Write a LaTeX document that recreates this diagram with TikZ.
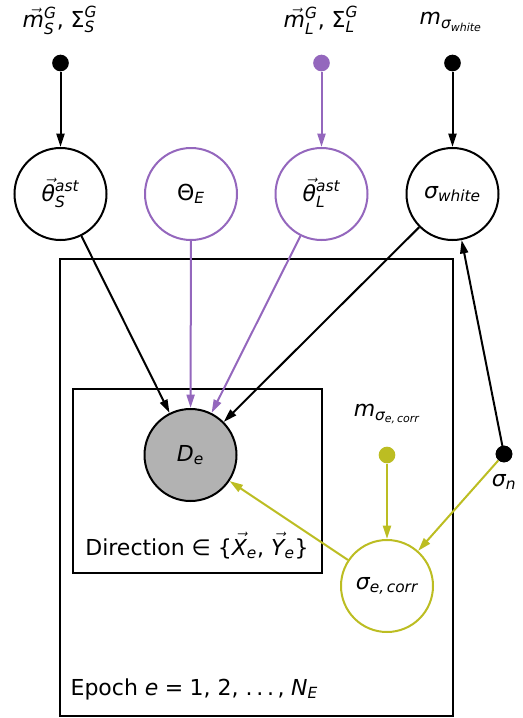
\documentclass[tikz,border=0pt]{standalone}
\usepackage{amsmath}
\usepackage{fontspec}
\setmainfont{DejaVu Sans}
\usetikzlibrary{arrows.meta}
\definecolor{tpurple}{HTML}{9467BD}
\definecolor{tolive}{HTML}{BCBD22}
\newcommand{\mt}[1]{\text{\itshape #1}}
\newcommand{\ut}[1]{\text{\upshape #1}}
\newcommand{\vt}[1]{\text{\setbox0\hbox{\itshape #1}\rlap{\hbox to\wd0{\hss\kern0.15em\raisebox{\dimexpr\ht0-0.43em\relax}[0pt][0pt]{$\mathchar"017E$}\hss}}\box0}}
\begin{document}
\begin{tikzpicture}[x=0.75pt,y=-0.75pt,
  every node/.style={font=\fontsize{16.5}{19}\selectfont},
  rv/.style={circle,draw,line width=1.5pt,minimum size=69pt,inner sep=0pt,fill=white},
  obs/.style={rv,fill=black!30},
  fixed/.style={circle,fill,inner sep=0pt,minimum size=12.5pt},
  lbl/.style={inner sep=1pt},
  edge/.style={line width=1.5pt,-{Triangle[length=10pt,width=6pt]}},
  plate/.style={draw,line width=1.5pt}]
\useasboundingbox (0,0) rectangle (523,718);
% plates
\draw[plate] (60,259) rectangle (453,716);
\draw[plate] (73,389) rectangle (322,573);
\node[lbl,anchor=west] (epoch) at (69,689) {Epoch $\mt{e}\;\ut{=}\;\ut{1, 2, .\,.\,.\,,}\;\mt{N}_{\mt{E}}$};
\node[lbl] (dir) at (197,549) {Direction ∈ \{$\vt{X}_{\mt{e}}$, $\vt{Y}_{\mt{e}}$\}};
% random variables
\node[rv] (thS) at (60.5,194) {$\vt{θ}^{\mt{ast}}_{\mt{S}}$};
\node[rv,draw=tpurple] (ThE) at (191,194) {$\ut{Θ}_{\mt{E}}$};
\node[rv,draw=tpurple] (thL) at (321.5,194) {$\vt{θ}^{\mt{ast}}_{\mt{L}}$};
\node[rv] (sw) at (452.5,194) {$\mt{σ}_{\mt{white}}$};
\node[obs] (De) at (190.5,455) {$\mt{D}_{\mt{e}}$};
\node[rv,draw=tolive] (sec) at (387,586) {$\mt{σ}_{\mt{e,\,corr}}$};
% fixed parameters
\node[fixed] (pS) at (60.5,63) {};
\node[fixed,tpurple] (pL) at (321.5,63) {};
\node[fixed] (pw) at (452.5,63) {};
\node[fixed,tolive] (pc) at (387,455) {};
\node[fixed] (sn) at (504,454) {};
\node[lbl] (lS) at (60,20) {$\vt{m}^{\mt{G}}_{\mt{S}}\ut{, }\ut{Σ}^{\mt{G}}_{\mt{S}}$};
\node[lbl] (lL) at (321,20) {$\vt{m}^{\mt{G}}_{\mt{L}}\ut{, }\ut{Σ}^{\mt{G}}_{\mt{L}}$};
\node[lbl] (lw) at (451,22) {$\mt{m}_{\mt{σ}_{\mt{white}}}$};
\node[lbl] (lc) at (387,414) {$\mt{m}_{\mt{σ}_{\mt{e,\,corr}}}$};
\node[lbl] (ln) at (504,482) {$\mt{σ}_{\mt{n}}$};
% edges
\draw[edge] (pS) -- (thS);
\draw[edge,tpurple] (pL) -- (thL);
\draw[edge] (pw) -- (sw);
\draw[edge] (thS) -- (De);
\draw[edge,tpurple] (ThE) -- (De);
\draw[edge,tpurple] (thL) -- (De);
\draw[edge] (sw) -- (De);
\draw[edge] (sn.center) -- (sw);
\draw[edge,tolive] (sn) -- (sec);
\draw[edge,tolive] (pc) -- (sec);
\draw[edge,tolive] (sec) -- (De);
\node[fixed] at (sn) {};
\end{tikzpicture}
\end{document}
